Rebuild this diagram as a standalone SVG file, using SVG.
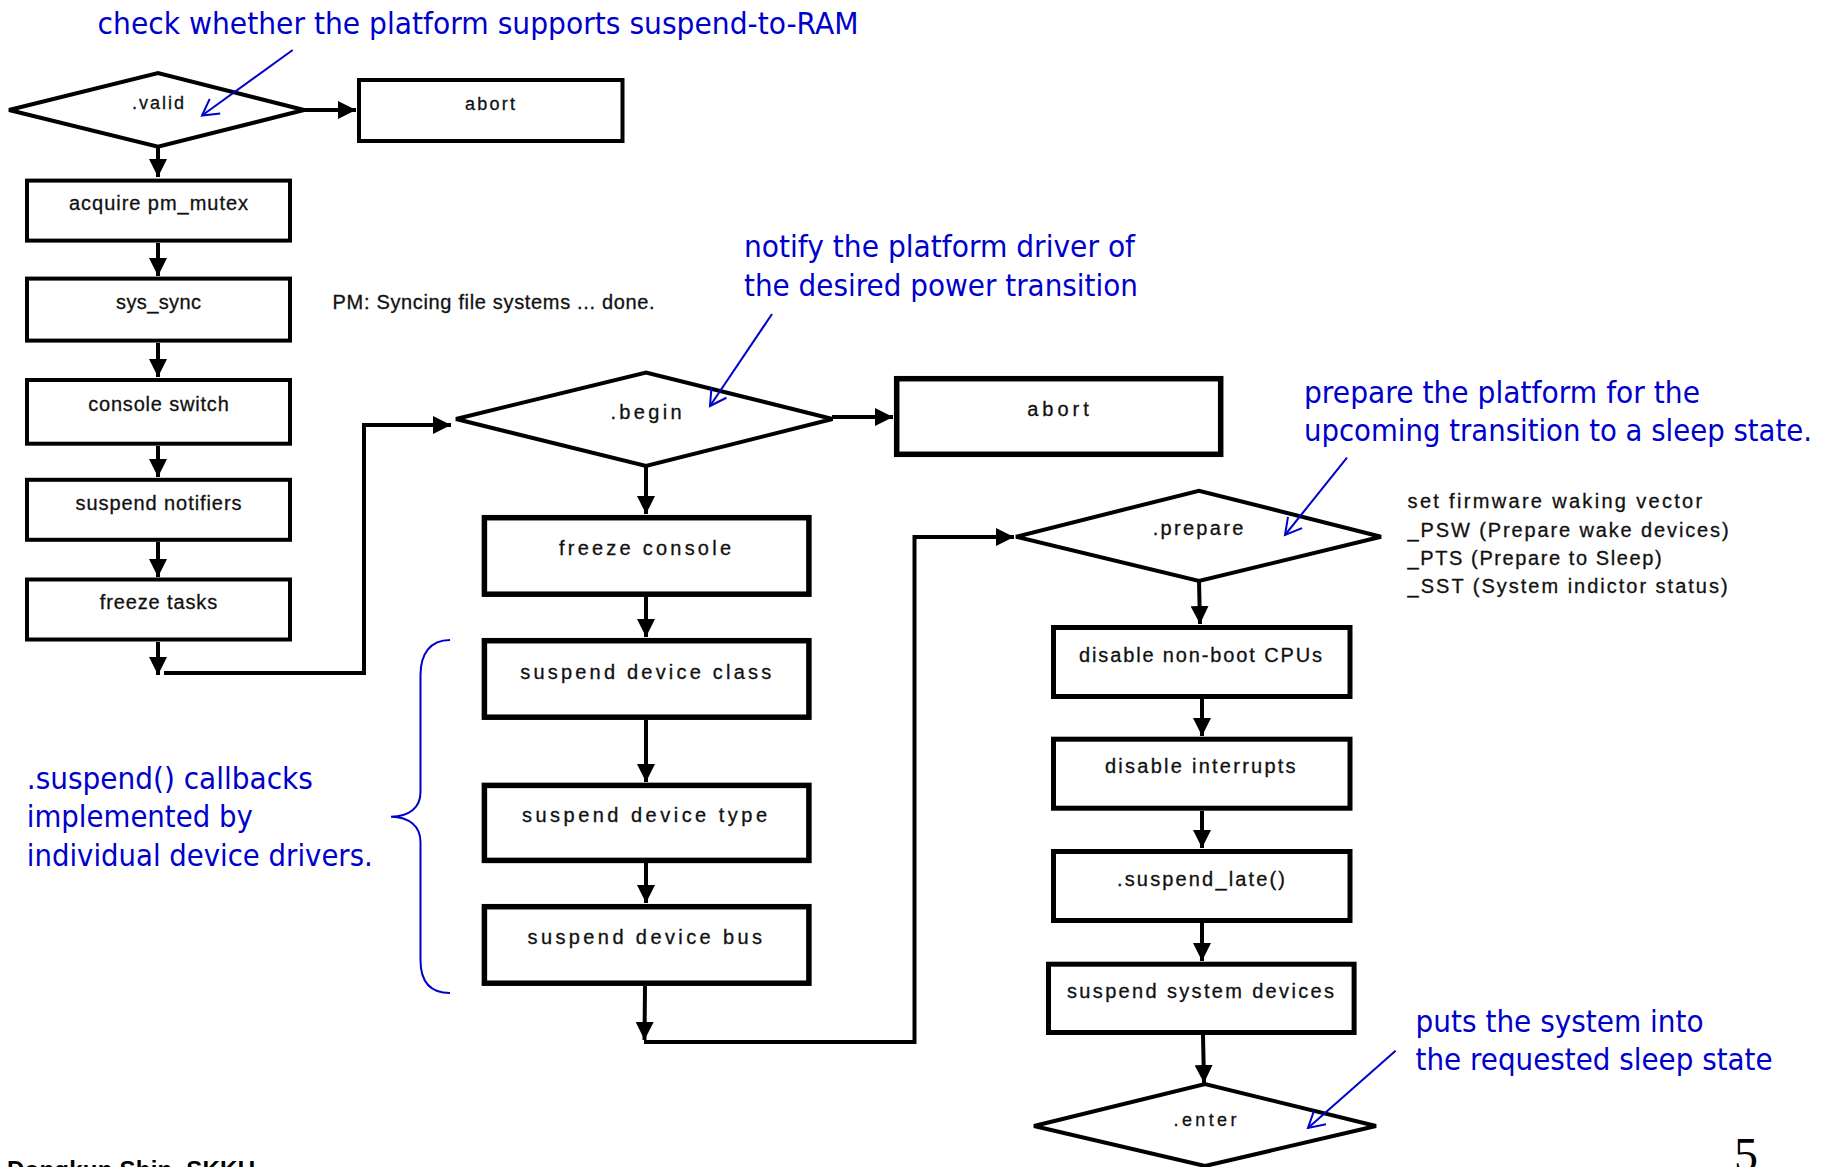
<svg xmlns="http://www.w3.org/2000/svg" width="1825" height="1167" viewBox="0 0 1825 1167">
  <style>
    .bg { fill: #ffffff; }
    .box { fill: #ffffff; stroke: #000000; }
    .thin { stroke-width: 4; }
    .mid { stroke-width: 5.5; }
    .rgt { stroke-width: 5; }
    .dia { fill: #ffffff; stroke: #000000; stroke-width: 4; stroke-linejoin: miter; }
    .lbl { font-family: "Liberation Sans", Arial, sans-serif; font-size: 20px; fill: #111111; stroke: #111111; stroke-width: 0.3; }
    .sm { font-size: 18px; }
    .note { font-family: "DejaVu Sans", Verdana, sans-serif; font-size: 30px; fill: #0000cc; }
    .conn { fill: none; stroke: #000000; stroke-width: 4; }
    .blue { fill: none; stroke: #0000cc; stroke-width: 2; }
  </style>
  <defs>
    <marker id="ah" markerUnits="userSpaceOnUse" markerWidth="18" markerHeight="18" viewBox="-16 -8 16 16" refX="0" refY="0" orient="auto">
      <path d="M-16,-8 L0,0 L-16,8 Z" fill="#000000"/>
    </marker>
    <marker id="bh" markerUnits="userSpaceOnUse" markerWidth="20" markerHeight="22" viewBox="-17 -11 19 22" refX="0" refY="0" orient="auto">
      <path d="M-16,-9 L0,0 L-16,9" fill="none" stroke="#0000cc" stroke-width="2"/>
    </marker>
  </defs>

  <rect class="bg" x="0" y="0" width="1825" height="1167"/>

  <!-- connectors -->
  <g id="connectors">
    <path class="conn" d="M304,110 H356" marker-end="url(#ah)"/>
    <path class="conn" d="M158,147 V177" marker-end="url(#ah)"/>
    <path class="conn" d="M158,243 V276" marker-end="url(#ah)"/>
    <path class="conn" d="M158,343 V377" marker-end="url(#ah)"/>
    <path class="conn" d="M158,446 V477" marker-end="url(#ah)"/>
    <path class="conn" d="M158,542 V577" marker-end="url(#ah)"/>
    <path class="conn" d="M158,642 V675" marker-end="url(#ah)"/>
    <path class="conn" d="M164,673 H364 V425 H451" marker-end="url(#ah)"/>
    <path class="conn" d="M832,417 H893" marker-end="url(#ah)"/>
    <path class="conn" d="M646,466 V514" marker-end="url(#ah)"/>
    <path class="conn" d="M646,597 V637" marker-end="url(#ah)"/>
    <path class="conn" d="M646,720 V782" marker-end="url(#ah)"/>
    <path class="conn" d="M646,863 V903" marker-end="url(#ah)"/>
    <path class="conn" d="M645,986 L644.5,1040" marker-end="url(#ah)"/>
    <path class="conn" d="M644,1042 H914.5 V537 H1014" marker-end="url(#ah)"/>
    <path class="conn" d="M1199,581 L1200,624" marker-end="url(#ah)"/>
    <path class="conn" d="M1202,699 V736" marker-end="url(#ah)"/>
    <path class="conn" d="M1202,811 V848" marker-end="url(#ah)"/>
    <path class="conn" d="M1202,923 V961" marker-end="url(#ah)"/>
    <path class="conn" d="M1203,1035 L1204,1083" marker-end="url(#ah)"/>
  </g>

  <!-- left column -->
  <g id="valid">
    <polygon class="dia" points="9,110 158,73 304,110 158,146.7"/>
    <text class="lbl sm" x="158" y="109" text-anchor="middle" textLength="52" lengthAdjust="spacing">.valid</text>
  </g>
  <g id="abort1">
    <rect class="box thin" x="359" y="80" width="263.5" height="61"/>
    <text class="lbl sm" x="490" y="110" text-anchor="middle" textLength="50" lengthAdjust="spacing">abort</text>
  </g>
  <g id="acquire">
    <rect class="box thin" x="27" y="180.6" width="263" height="60"/>
    <text class="lbl" x="158.5" y="210" text-anchor="middle" textLength="179" lengthAdjust="spacing">acquire pm_mutex</text>
  </g>
  <g id="sys_sync">
    <rect class="box thin" x="27" y="278.6" width="263" height="62"/>
    <text class="lbl" x="158.5" y="309" text-anchor="middle" textLength="85" lengthAdjust="spacing">sys_sync</text>
  </g>
  <g id="sync_msg">
    <text class="lbl" x="332.6" y="309" textLength="322" lengthAdjust="spacing">PM: Syncing file systems ... done.</text>
  </g>
  <g id="console_switch">
    <rect class="box thin" x="27" y="380" width="263" height="63.7"/>
    <text class="lbl" x="158.5" y="411" text-anchor="middle" textLength="140.6" lengthAdjust="spacing">console switch</text>
  </g>
  <g id="suspend_notifiers">
    <rect class="box thin" x="27" y="479.8" width="263" height="60"/>
    <text class="lbl" x="158.5" y="510" text-anchor="middle" textLength="166" lengthAdjust="spacing">suspend notifiers</text>
  </g>
  <g id="freeze_tasks">
    <rect class="box thin" x="27" y="579.5" width="263" height="60"/>
    <text class="lbl" x="158.5" y="609" text-anchor="middle" textLength="117.4" lengthAdjust="spacing">freeze tasks</text>
  </g>

  <!-- middle column -->
  <g id="begin">
    <polygon class="dia" points="456,419 646,372.5 832.5,419 646,466"/>
    <text class="lbl" x="646" y="419" text-anchor="middle" textLength="71" lengthAdjust="spacing">.begin</text>
  </g>
  <g id="abort2">
    <rect class="box mid" x="896.7" y="378.7" width="324" height="75.6"/>
    <text class="lbl" x="1058" y="416" text-anchor="middle" textLength="61.5" lengthAdjust="spacing">abort</text>
  </g>
  <g id="freeze_console">
    <rect class="box mid" x="484.4" y="517.7" width="324.5" height="76.5"/>
    <text class="lbl" x="645" y="555" text-anchor="middle" textLength="172" lengthAdjust="spacing">freeze console</text>
  </g>
  <g id="dev_class">
    <rect class="box mid" x="484.4" y="640.7" width="324.5" height="76.5"/>
    <text class="lbl" x="645.7" y="679" text-anchor="middle" textLength="251" lengthAdjust="spacing">suspend device class</text>
  </g>
  <g id="dev_type">
    <rect class="box mid" x="484.4" y="785.4" width="324.5" height="75"/>
    <text class="lbl" x="644.5" y="821.7" text-anchor="middle" textLength="245" lengthAdjust="spacing">suspend device type</text>
  </g>
  <g id="dev_bus">
    <rect class="box mid" x="484.4" y="906.7" width="324.5" height="76.5"/>
    <text class="lbl" x="644.8" y="944" text-anchor="middle" textLength="234.6" lengthAdjust="spacing">suspend device bus</text>
  </g>

  <!-- right column -->
  <g id="prepare">
    <polygon class="dia" points="1016,536.7 1199,490.7 1381,536.7 1199,581"/>
    <text class="lbl" x="1198" y="535" text-anchor="middle" textLength="90.5" lengthAdjust="spacing">.prepare</text>
  </g>
  <g id="acpi_notes">
    <text class="lbl" x="1407.6" y="508" textLength="294.6" lengthAdjust="spacing">set firmware waking vector</text>
    <text class="lbl" x="1407.6" y="536.7" textLength="321" lengthAdjust="spacing">_PSW (Prepare wake devices)</text>
    <text class="lbl" x="1407.6" y="565" textLength="254" lengthAdjust="spacing">_PTS (Prepare to Sleep)</text>
    <text class="lbl" x="1407.6" y="593" textLength="320" lengthAdjust="spacing">_SST (System indictor status)</text>
  </g>
  <g id="disable_cpus">
    <rect class="box rgt" x="1053.5" y="627.5" width="296.5" height="69"/>
    <text class="lbl" x="1200.5" y="661.7" text-anchor="middle" textLength="243" lengthAdjust="spacing">disable non-boot CPUs</text>
  </g>
  <g id="disable_irqs">
    <rect class="box rgt" x="1053.5" y="739.2" width="296.5" height="69"/>
    <text class="lbl" x="1200.3" y="773" text-anchor="middle" textLength="190.6" lengthAdjust="spacing">disable interrupts</text>
  </g>
  <g id="suspend_late">
    <rect class="box rgt" x="1053.5" y="851.5" width="296.5" height="69"/>
    <text class="lbl" x="1201" y="886" text-anchor="middle" textLength="168" lengthAdjust="spacing">.suspend_late()</text>
  </g>
  <g id="sys_devices">
    <rect class="box rgt" x="1048.5" y="964.2" width="305.6" height="68.3"/>
    <text class="lbl" x="1200.5" y="998" text-anchor="middle" textLength="267" lengthAdjust="spacing">suspend system devices</text>
  </g>
  <g id="enter">
    <polygon class="dia" points="1034,1126 1205,1084 1376,1126 1205,1166"/>
    <text class="lbl sm" x="1205" y="1126" text-anchor="middle" textLength="63" lengthAdjust="spacing">.enter</text>
  </g>

  <!-- annotations -->
  <g id="notes">
    <text class="note" x="97.6" y="34" textLength="761" lengthAdjust="spacingAndGlyphs">check whether the platform supports suspend-to-RAM</text>
    <path class="blue" d="M292.7,50 L202,115.5" marker-end="url(#bh)"/>

    <text class="note" x="744" y="257" textLength="391" lengthAdjust="spacingAndGlyphs">notify the platform driver of</text>
    <text class="note" x="744" y="296" textLength="394" lengthAdjust="spacingAndGlyphs">the desired power transition</text>
    <path class="blue" d="M772,314 L710,406" marker-end="url(#bh)"/>

    <text class="note" x="1304" y="403" textLength="396" lengthAdjust="spacingAndGlyphs">prepare the platform for the</text>
    <text class="note" x="1304" y="441" textLength="508" lengthAdjust="spacingAndGlyphs">upcoming transition to a sleep state.</text>
    <path class="blue" d="M1347,457.7 L1285,535" marker-end="url(#bh)"/>

    <text class="note" x="1415.6" y="1032" textLength="288" lengthAdjust="spacingAndGlyphs">puts the system into</text>
    <text class="note" x="1415.6" y="1070" textLength="357" lengthAdjust="spacingAndGlyphs">the requested sleep state</text>
    <path class="blue" d="M1395.6,1050.7 L1308,1128" marker-end="url(#bh)"/>

    <text class="note" x="26.8" y="789" textLength="286" lengthAdjust="spacingAndGlyphs">.suspend() callbacks</text>
    <text class="note" x="26.8" y="827" textLength="226" lengthAdjust="spacingAndGlyphs">implemented by</text>
    <text class="note" x="26.8" y="866" textLength="346" lengthAdjust="spacingAndGlyphs">individual device drivers.</text>
    <path class="blue" d="M450,640 C430,640 420.5,654 420.5,675 L420.5,792 C420.5,808 409,816.5 391,816.7 C409,817 420.5,826 420.5,842 L420.5,960 C420.5,981 430,993 450,993"/>
  </g>

  <!-- footer -->
  <g id="footer">
    <text x="7" y="1178" font-family="'Liberation Sans', Arial, sans-serif" font-size="24" font-weight="bold" fill="#000000" textLength="248" lengthAdjust="spacing">Dongkun Shin, SKKU</text>
    <text x="1734" y="1171" font-family="'Liberation Serif', 'Times New Roman', serif" font-size="48" fill="#000000">5</text>
  </g>
</svg>
